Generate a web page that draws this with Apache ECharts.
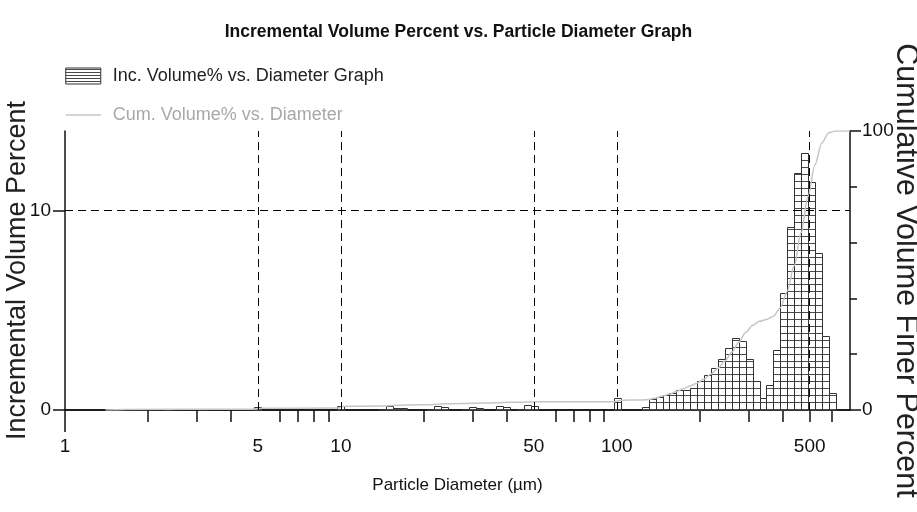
<!DOCTYPE html>
<html><head><meta charset="utf-8">
<script src="https://cdn.jsdelivr.net/npm/echarts@6/dist/echarts.min.js"></script>
<style>html,body{margin:0;padding:0;background:#fff}#c{width:917px;height:512px}</style>
</head><body><div id="c"></div>
<script>
// ---- data ----
// Incremental volume histogram: bin lower / upper diameters (µm) and volume %
const binLow = [1.439, 1.528, 2.287, 3.056, 4.852, 9.703, 13.72, 14.54, 15.40, 16.32,
  20.56, 21.78, 23.08, 27.44, 29.08, 30.80, 36.63, 38.81, 43.57, 46.16, 48.90, 97.8,
  123.2, 130.5, 138.3, 146.5, 155.2, 164.5, 174.3, 184.6, 195.6, 207.2, 219.6, 232.6,
  246.4, 261.1, 276.6, 293.1, 310.5, 329.0, 348.5, 369.2, 391.2, 414.5, 439.1, 465.2,
  492.9, 522.2, 553.2, 586.1];
const binHigh = [1.528, 1.619, 2.426, 3.238, 5.140, 10.28, 14.54, 15.40, 16.32, 17.29,
  21.78, 23.08, 24.45, 29.08, 30.80, 32.64, 38.81, 41.12, 46.16, 48.90, 51.81, 103.6,
  130.5, 138.3, 146.5, 155.2, 164.5, 174.3, 184.6, 195.6, 207.2, 219.6, 232.6, 246.4,
  261.1, 276.6, 293.1, 310.5, 329.0, 348.5, 369.2, 391.2, 414.5, 439.1, 465.2, 492.9,
  522.2, 553.2, 586.1, 621.0];
const incVolume = [0.07, 0.07, 0.05, 0.05, 0.17, 0.19, 0.05, 0.20, 0.08, 0.08,
  0.05, 0.20, 0.17, 0.07, 0.17, 0.08, 0.20, 0.17, 0.07, 0.25, 0.20, 0.59,
  0.17, 0.54, 0.67, 0.75, 0.85, 1.00, 1.00, 1.09, 1.46, 1.77, 2.11, 2.56,
  3.13, 3.63, 3.44, 2.56, 1.46, 0.60, 1.25, 3.00, 5.85, 9.17, 11.88, 12.88,
  11.44, 7.86, 3.70, 0.85];
// Cumulative volume finer curve
const cumDiameter = [1.4, 1.65, 4.85, 5.15, 9.7, 10.3, 13.7, 17.3, 20.6, 24.4, 27.4, 32.6,
  36.6, 41.1, 43.6, 51.8, 97.8, 103.6, 123.2, 130.5, 138.3, 146.5, 155.2, 164.5, 174.3,
  184.6, 195.6, 207.2, 219.6, 232.6, 246.4, 261.1, 276.6, 293.1, 310.5, 329.0, 348.5,
  369.2, 391.2, 414.5, 439.1, 465.2, 492.9, 522.2, 553.2, 586.1, 621.0, 700];
const cumPercent = [0, 0.2, 0.3, 0.6, 0.7, 1.3, 1.4, 1.8, 1.9, 2.2, 2.3, 2.5,
  2.6, 2.8, 2.8, 3.0, 3.0, 3.5, 3.6, 3.8, 4.3, 5.0, 5.7, 6.6, 7.6,
  8.6, 9.7, 11.1, 12.9, 15.0, 17.6, 20.7, 24.3, 27.8, 30.3, 31.8, 32.4,
  33.6, 36.6, 42.5, 51.6, 63.5, 76.4, 87.8, 95.7, 99.4, 100, 100];
// Axis ticks
const xLabelTicks = [1, 5, 10, 50, 100, 500];
const xMinorTicks = [2, 3, 4, 6, 7, 8, 9, 20, 30, 40, 60, 70, 80, 90, 200, 300, 400, 500, 600];
const xGridLines = [5, 10, 50, 100, 500];
const leftTicks = [0, 10];
const leftGridLines = [10];
const rightLabelTicks = [0, 100];
const rightMinorTicks = [20, 40, 60, 80];

const incName = 'Inc. Volume% vs. Diameter Graph';
const cumName = 'Cum. Volume% vs. Diameter';

// ---- styles ----
const NARROW = '"Liberation Sans Narrow","Arial Narrow","Liberation Sans",Arial,sans-serif';
const WIDE = '"Liberation Sans",Arial,sans-serif';
const INK = '#111';
const CUM_GRAY = '#c6c6c6';

function makeHatch(w, h, rows) {
  const c = document.createElement('canvas');
  c.width = w; c.height = h;
  const g = c.getContext('2d');
  g.fillStyle = '#fff'; g.fillRect(0, 0, w, h);
  g.fillStyle = '#4a4a4a';
  rows.forEach(y => g.fillRect(0, y, w, 1));
  return c;
}
const barRows = [];
for (let i = 0; i < 12; i++) barRows.push(((409 - Math.round(i * 83 / 12)) % 83 + 83) % 83);
const barPattern = { image: makeHatch(8, 83, barRows), repeat: 'repeat' };
const legendPattern = { image: makeHatch(8, 3, [1]), repeat: 'repeat' };

const chart = echarts.init(document.getElementById('c'), null, { renderer: 'canvas' });
const axisLine = { show: true, lineStyle: { color: INK, width: 1.5 } };
const tickLine = { color: INK, width: 1.5 };
const xBase = { type: 'log', logBase: 10, min: 1, max: 700, splitLine: { show: false }, minorTick: { show: false } };
const fmt = v => String(Number(Number(v).toPrecision(3)));

chart.setOption({
  animation: false,
  backgroundColor: '#fff',
  title: {
    text: 'Incremental Volume Percent vs. Particle Diameter Graph',
    left: 'center', top: 18,
    textStyle: { fontFamily: NARROW, fontWeight: 'bold', fontSize: 17.5, color: INK }
  },
  legend: {
    orient: 'vertical', left: 60, top: 62, itemWidth: 35, itemHeight: 16, itemGap: 21,
    selectedMode: false,
    textStyle: { fontFamily: NARROW, fontSize: 18, padding: [0, 0, 0, 7] },
    data: [
      { name: incName, icon: 'rect', itemStyle: { color: legendPattern, borderColor: '#333', borderWidth: 1 }, textStyle: { color: '#222' } },
      { name: cumName, itemStyle: { opacity: 0, color: 'transparent', borderWidth: 0 },
        lineStyle: { color: CUM_GRAY, width: 1.5, opacity: 1 }, textStyle: { color: '#a8a8a8' } }
    ]
  },
  grid: { left: 65, right: 67, top: 131, bottom: 102, containLabel: false, outerBoundsMode: 'none' },
  xAxis: [
    Object.assign({}, xBase, {
      position: 'bottom', axisLine: axisLine,
      axisTick: { show: true, customValues: [1], length: 22, lineStyle: tickLine },
      axisLabel: { customValues: xLabelTicks, margin: 27, fontFamily: NARROW, fontSize: 19, color: INK, formatter: fmt },
      name: 'Particle Diameter (µm)', nameLocation: 'middle', nameGap: 67, nameMoveOverlap: false,
      nameTextStyle: { fontFamily: NARROW, fontSize: 17, color: INK }
    }),
    Object.assign({}, xBase, {
      position: 'bottom', axisLine: { show: false },
      axisTick: { show: true, customValues: xMinorTicks, length: 12, lineStyle: tickLine },
      axisLabel: { show: false }
    }),
    Object.assign({}, xBase, {
      position: 'top', axisLine: axisLine, axisTick: { show: false }, axisLabel: { show: false }
    })
  ],
  yAxis: [
    {
      type: 'value', position: 'left', min: 0, max: 14,
      axisLine: axisLine,
      axisTick: { show: true, customValues: leftTicks, length: 12, lineStyle: tickLine },
      axisLabel: { customValues: leftTicks, margin: 14, fontFamily: NARROW, fontSize: 19, color: INK },
      splitLine: { show: false },
      name: 'Incremental Volume Percent', nameLocation: 'middle', nameRotate: 90, nameGap: 34,
      nameMoveOverlap: false,
      nameTextStyle: { fontFamily: WIDE, fontSize: 27, color: '#222' }
    },
    {
      type: 'value', position: 'right', min: 0, max: 100,
      axisLine: axisLine,
      axisTick: { show: true, customValues: rightLabelTicks, length: 11, lineStyle: tickLine },
      axisLabel: { customValues: rightLabelTicks, margin: 12, fontFamily: NARROW, fontSize: 19, color: INK },
      splitLine: { show: false },
      name: 'Cumulative Volume Finer Percent', nameLocation: 'middle', nameRotate: -90, nameGap: 40,
      nameMoveOverlap: false,
      nameTextStyle: { fontFamily: WIDE, fontSize: 30.5, color: '#222' }
    },
    {
      type: 'value', position: 'right', min: 0, max: 100,
      axisLine: { show: false },
      axisTick: { show: true, customValues: rightMinorTicks, length: 7, lineStyle: tickLine },
      axisLabel: { show: false }, splitLine: { show: false }
    }
  ],
  series: [
    {
      type: 'custom', name: incName, xAxisIndex: 0, yAxisIndex: 0, z: 2,
      data: binLow.map((lo, i) => [lo, binHigh[i], incVolume[i]]),
      encode: { x: [0, 1], y: 2 },
      itemStyle: { color: barPattern, borderColor: '#333', borderWidth: 1 },
      renderItem: function (params, api) {
        const a = api.coord([api.value(0), 0]);
        const b = api.coord([api.value(1), api.value(2)]);
        const x0 = Math.round(a[0]) + 0.5, x1 = Math.round(b[0]) + 0.5;
        const y0 = Math.round(a[1]) + 0.5, y1 = Math.round(b[1]) + 0.5;
        return {
          type: 'rect',
          shape: { x: x0, y: y1, width: x1 - x0, height: y0 - y1 },
          style: { fill: barPattern, stroke: '#333', lineWidth: 1 }
        };
      },
      markLine: {
        silent: true, symbol: 'none', label: { show: false },
        lineStyle: { type: [8, 5], color: '#000', width: 1 },
        data: xGridLines.map(v => ({ xAxis: v })).concat(leftGridLines.map(v => ({ yAxis: v })))
      }
    },
    {
      type: 'line', name: cumName, xAxisIndex: 0, yAxisIndex: 1, z: 3,
      data: cumDiameter.map((d, i) => [d, cumPercent[i]]),
      symbol: 'none', smooth: 0.3, smoothMonotone: 'x',
      lineStyle: { color: CUM_GRAY, width: 1.5 }, itemStyle: { color: CUM_GRAY }
    }
  ]
});
</script>
</body></html>
